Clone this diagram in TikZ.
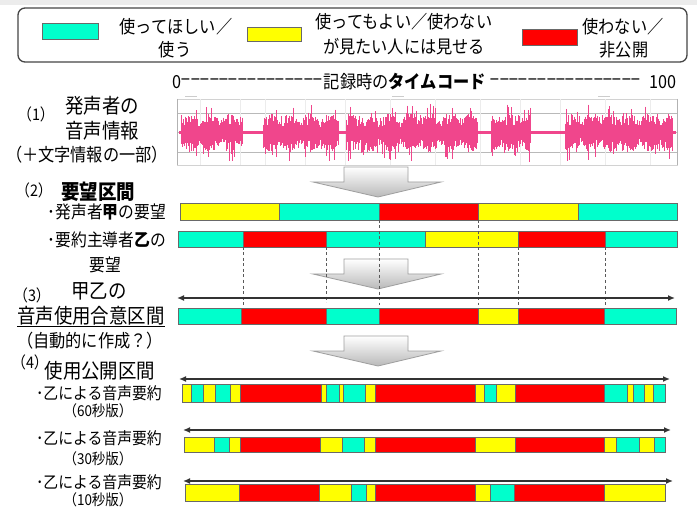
\documentclass[tikz,border=0pt]{standalone}
\usepackage{fontspec}
\setmainfont{Noto Sans CJK JP}[FakeStretch=0.9]
\usetikzlibrary{arrows.meta}
\definecolor{cy}{RGB}{0,255,204}
\definecolor{ye}{RGB}{255,255,0}
\definecolor{re}{RGB}{255,0,0}
\definecolor{edge}{RGB}{105,105,105}
\definecolor{wavepink}{RGB}{240,70,140}
\newcommand\segrow[3]{\foreach \a/\b/\c in {#3}{\draw[seg,fill=\c] (\a,#1) rectangle (\b,#2);}}
\newcommand\blockarrow[2]{% #1 = name, #2 = top y
  \draw[blockarr] (344,#2) -- (408,#2) -- (408,#2+15) -- (441,#2+15) -- (378,#2+30)
     -- (313,#2+15) -- (344,#2+15) -- cycle;}
\newcommand\dashfill[1]{\hbox to #1{\leaders\hbox to 9.4pt{\hss\scalebox{1.9}[1]{-}\hss}\hfill}}
\begin{document}
\begin{tikzpicture}[x=1pt,y=-1pt,
  seg/.style={draw=edge,line width=0.9pt},
  legbox/.style={draw=edge,line width=0.9pt},
  lg/.style={font=\fontsize{18}{22}\selectfont,inner sep=0pt},
  big/.style={font=\fontsize{20.5}{24}\selectfont,inner sep=0pt},
  num/.style={font=\fontsize{16}{18}\selectfont,inner sep=0pt},
  sub/.style={font=\fontsize{17.5}{20}\selectfont,inner sep=0pt,anchor=east},
  subb/.style={font=\fontsize{16.5}{20}\selectfont,inner sep=0pt,anchor=east},
  mid/.style={font=\fontsize{18}{20}\selectfont,inner sep=0pt},
  sm/.style={font=\fontsize{15}{18}\selectfont,inner sep=0pt},
  tc/.style={font=\fontsize{18}{20}\selectfont,inner sep=0pt},
  blockarr/.style={draw=gray!75,line width=0.8pt,top color=white,bottom color=gray!55},
  dline/.style={draw=gray!70!black,dashed,dash pattern=on 3pt off 2.5pt,line width=0.7pt},
  darr/.style={draw=gray!40!black,line width=1.3pt,{Latex[length=7pt,width=6pt]}-{Latex[length=7pt,width=6pt]}},
  wave/.style={draw=wavepink,line width=0.65pt}]
\useasboundingbox (0,0) rectangle (697,508);
\fill[white] (0,0) rectangle (697,508);
\fill[gray!15] (0,0) rectangle (697,5);
% legend
\draw[rounded corners=7pt,draw=gray!55!black,line width=1.3pt] (18,8) rectangle (687,62);
\draw[legbox,fill=cy] (42,23) rectangle (98,39);
\draw[legbox,fill=ye] (247,27) rectangle (301,41);
\draw[legbox,fill=re] (522,29) rectangle (577,45);
\node[lg] (l1a) at (176,27) {使ってほしい／};
\node[lg] (l1b) at (175,50) {使う};
\node[lg] (l2a) at (404,22) {使ってもよい／使わない};
\node[lg] (l2b) at (404,47) {が見たい人には見せる};
\node[lg] (l3a) at (623,27) {使わない／};
\node[lg] (l3b) at (624,50) {非公開};
% time code
\node[tc,anchor=west] (t0) at (172,82) {0};
\node[tc,anchor=west] (td1) at (t0.east) {\dashfill{142pt}};
\node[tc,anchor=west] (tt) at (td1.east) {記録時の\textbf{タイムコード}};
\node[tc,anchor=east] (t100) at (677,82) {100};
\node[tc,anchor=east] (td2) at (t100.west) {\dashfill{159pt}};
% waveform
\draw[gray!35,line width=0.6pt] (177,99) rectangle (677,165);
\foreach \gy in {113,132,152} \draw[gray!55,line width=0.6pt] (177,\gy) -- (677,\gy);
\foreach \gx in {200,240,265,305,345,390,435,480,520,560,605,650} \draw[gray!15,line width=0.5pt] (\gx,99) -- (\gx,165);
\draw[gray!60,line width=1pt] (177,99) -- (177,165) (677,99) -- (677,165);
\foreach \gx in {185,392,598} \draw[gray!40,line width=0.8pt] (\gx,96) -- (\gx+12,96);
\pgfmathsetseed{11}
\foreach \i in {0,...,900} {
  \pgfmathsetmacro\xx{179+\i*0.552}
  \pgfmathsetmacro\env{(\xx>181)*(\xx<243)+(\xx>263)*(\xx<339)+(\xx>346)*(\xx<478)+(\xx>491)*(\xx<531)+(\xx>565)*(\xx<673)}
  \pgfmathsetmacro\mod{0.55+0.45*abs(sin(\xx*9))}
  \pgfmathsetmacro\au{1.5+\env*\mod*(6+12*rnd+10*(rnd>0.88))}
  \pgfmathsetmacro\ad{1.5+\env*\mod*(6+12*rnd+10*(rnd>0.88))}
  \draw[wave] (\xx,133-\au) -- (\xx,133+\ad);
}
% (1)
\node[num] (n1) at (36,114) {（1）};
\node[big] (t1a) at (102,106) {発声者の};
\node[big] (t1b) at (102,131) {音声情報};
\node[mid] (t1c) at (87,155) {（＋文字情報の一部）};
% arrows
\blockarrow{a1}{167}
\blockarrow{a2}{259}
\blockarrow{a3}{336}
% (2)
\node[num] (n2) at (34,190) {（2）};
\node[big] (t2) at (98,192) {\textbf{要望区間}};
\node[sub] (t2a) at (166,212) {･発声者\textbf{甲}の要望};
\node[sub] (t2b) at (166,240) {･要約主導者\textbf{乙}の};
\node[sub,anchor=center] (t2c) at (105,265) {要望};
\segrow{203}{220}{180/279/ye,279/379/cy,379/478/re,478/578/ye,578/677/cy}
\segrow{231}{247}{178/243/cy,243/326/re,326/425/cy,425/518/ye,518/605/re,605/677/cy}
\coordinate (d1t) at (243,247); \coordinate (d1b) at (243,305);
\coordinate (d2t) at (326,247); \coordinate (d2b) at (326,302);
\coordinate (d3t) at (379,220); \coordinate (d3b) at (379,305);
\coordinate (d4t) at (478,220); \coordinate (d4b) at (478,305);
\coordinate (d5t) at (518,247); \coordinate (d5b) at (518,305);
\coordinate (d6t) at (605,247); \coordinate (d6b) at (605,305);
\foreach \k in {1,...,6} \draw[dline] (d\k t) -- (d\k b);
% (3)
\node[num] (n3) at (32,295) {（3）};
\node[big] (t3a) at (99,291) {甲乙の};
\node[big] (t3b) at (91,316) {音声使用合意区間};
\draw[line width=1pt] (t3b.south west) ++(0,1) -- ([yshift=-1pt]t3b.south east);
\node[mid] (t3c) at (90,341) {（自動的に作成？）};
\coordinate (l3a) at (177,298); \coordinate (l3b) at (675,298);
\draw[darr] (l3a) -- (l3b);
\segrow{308}{324}{178/241/cy,241/326/re,326/379/cy,379/478/re,478/518/ye,518/604/re,604/676/cy}
% (4)
\node[num] (n4) at (30,362) {（4）};
\node[big] (t4) at (100,371) {使用公開区間};
\coordinate (l4a) at (179,379); \coordinate (l4b) at (670,379);
\draw[darr] (l4a) -- (l4b);
\segrow{384}{402}{182/191/ye,191/203/cy,203/215/ye,215/230/cy,230/240/ye,240/321/re,321/326/ye,326/339/cy,339/343/ye,343/365/cy,365/375/ye,375/475/re,475/484/ye,484/496/cy,496/515/ye,515/604/re,604/627/cy,627/633/ye,633/644/cy,644/653/ye,653/665/cy}
\node[subb] (t4a) at (162,393) {･乙による音声要約};
\node[sm] (t4b) at (98,411) {（60秒版）};
\coordinate (l5a) at (183,430); \coordinate (l5b) at (671,430);
\draw[darr] (l5a) -- (l5b);
\segrow{437}{452}{184/214/ye,214/229/cy,229/240/ye,240/320/re,320/342/ye,342/364/cy,364/375/ye,375/475/re,475/515/ye,515/604/re,604/616/ye,616/639/cy,639/654/ye,654/665/cy}
\node[subb] (t5a) at (162,438) {･乙による音声要約};
\node[sm] (t5b) at (98,459) {（30秒版）};
\coordinate (l6a) at (183,481); \coordinate (l6b) at (673,481);
\draw[darr] (l6a) -- (l6b);
\segrow{484}{501}{185/239/ye,239/319/re,319/351/ye,351/366/cy,366/375/ye,375/475/re,475/490/ye,490/514/cy,514/604/re,604/665/ye}
\node[subb] (t6a) at (162,482) {･乙による音声要約};
\node[sm] (t6b) at (98,500) {（10秒版）};
\end{tikzpicture}
\end{document}
